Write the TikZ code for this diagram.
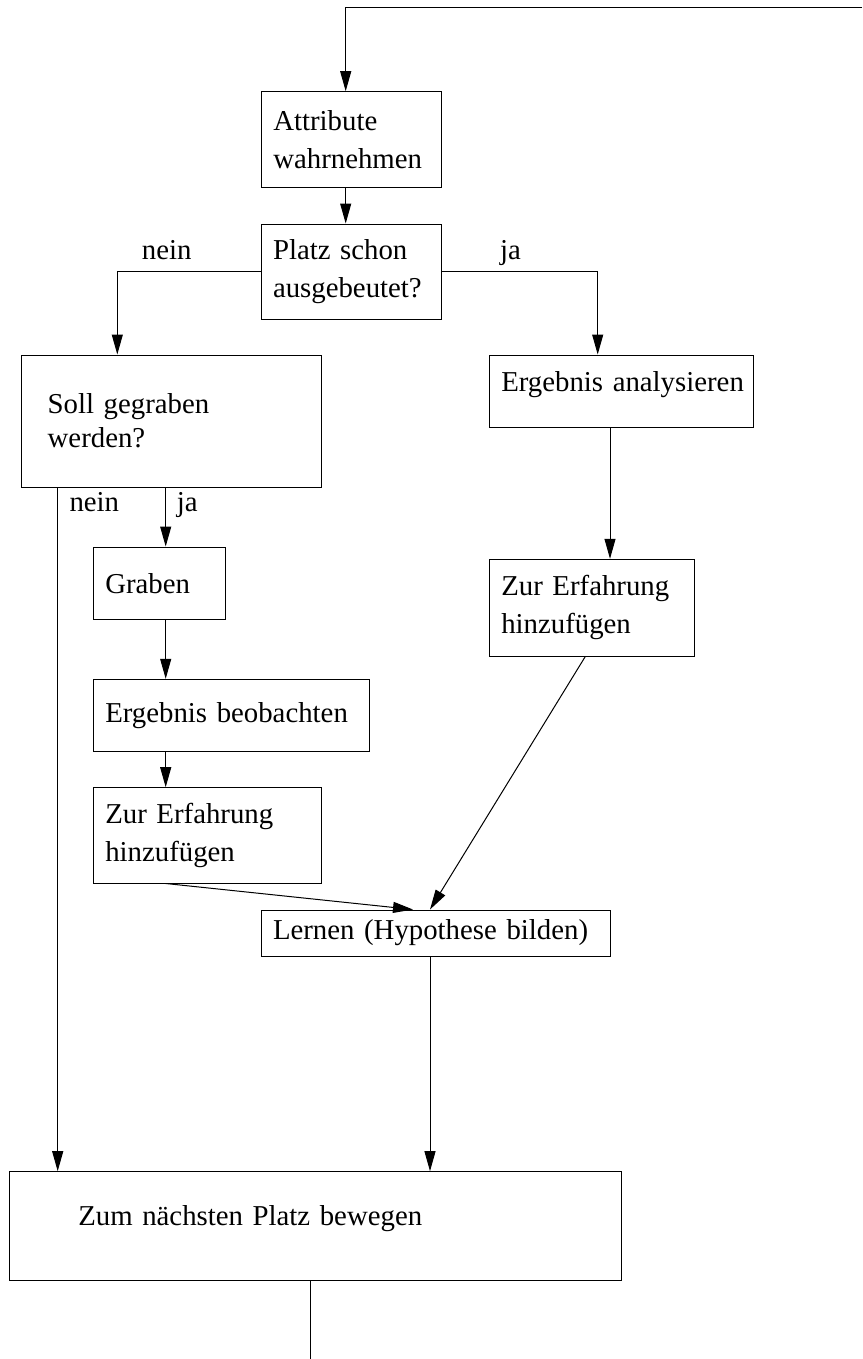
\documentclass[tikz,border=0pt]{standalone}
\usepackage{fontspec}
\setmainfont{Liberation Serif}
\usetikzlibrary{arrows.meta,calc}
\begin{document}
\begin{tikzpicture}[x=1pt,y=-1pt,
  every node/.style={font=\fontsize{28.8}{37.5}\selectfont},
  box/.style={draw, line width=1pt, rectangle, inner xsep=12pt, inner ysep=0pt, align=left, anchor=center},
  lbl/.style={inner sep=0pt, anchor=base west},
  arr/.style={line width=1pt, -{Triangle[length=20pt,width=11pt]}},
  ln/.style={line width=1pt}]
\useasboundingbox (0,0) rectangle (862,1359);

% boxes
\node[box, text width=156.4pt, minimum height=96pt] (a1) at (351.5,139.7) {Attribute\\wahrnehmen};
\node[box, text width=156.7pt, minimum height=95.3pt] (a2) at (351.35,271.65) {Platz~schon\\ausgebeutet?};
\node[box, inner xsep=26.4pt, text width=247.6pt, minimum height=132.3pt,
      font=\fontsize{28.8}{34}\selectfont] (a3) at (171.5,421.15) {Soll~gegraben\\werden?};
\node[box, text width=240.4pt, minimum height=72.7pt, text depth=19pt] (a4) at (621.5,391.35) {Ergebnis~analysieren};
\node[box, text width=180.7pt, minimum height=96.7pt] (a5) at (591.65,607.65) {Zur~Erfahrung\\hinzufügen};
\node[box, text width=108.4pt, minimum height=72.3pt] (b1) at (159.5,583.15) {Graben};
\node[box, text width=252pt, minimum height=72.4pt] (b2) at (231.3,715.5) {Ergebnis~beobachten};
\node[box, text width=204pt, minimum height=95.3pt] (b3) at (207.3,835.35) {Zur~Erfahrung\\hinzufügen};
\node[box, text width=325pt, minimum height=46pt] (c1) at (435.5,933) {Lernen~(Hypothese~bilden)};
\node[box, text width=588.4pt, minimum height=108.3pt, text depth=21.4pt] (c2) at (315.5,1225.85) {\hspace*{57pt}Zum~nächsten~Platz~bewegen};

% labels
\node[lbl] (n1) at (141.7,259) {nein};
\node[lbl] (j1) at (500,259) {ja};
\node[lbl] (n2) at (69.3,511.7) {nein};
\node[lbl] (j2) at (176.7,511.7) {ja};

% helper coordinates
\coordinate (topR) at (862,7.3);
\coordinate (topL) at (345.7,7.3);
\coordinate (xA) at (345.7,0);
\coordinate (xN) at (117.3,0);
\coordinate (xJ) at (597.7,0);
\coordinate (xE) at (610,0);
\coordinate (xG) at (165.7,0);
\coordinate (xM) at (57.7,0);
\coordinate (xL) at (413,0);
\coordinate (xP) at (430,0);
\coordinate (xB) at (310,0);
\coordinate (xZ) at (585.3,0);
\coordinate (bot) at (310,1359);

% connectors
\draw[arr] (topR) -- (topL) -- (a1.north -| xA);
\draw[arr] (a1.south -| xA) -- (a2.north -| xA);
\draw[arr] (a2.west) -| (a3.north -| xN);
\draw[arr] (a2.east) -| (a4.north -| xJ);
\draw[arr] (a4.south -| xE) -- (a5.north -| xE);
\draw[arr] (a3.south -| xG) -- (b1.north -| xG);
\draw[arr] (a3.south -| xM) -- (c2.north -| xM);
\draw[arr] (b1.south -| xG) -- (b2.north -| xG);
\draw[arr] (b2.south -| xG) -- (b3.north -| xG);
\draw[arr] (b3.south -| xG) -- (c1.north -| xL);
\draw[arr] (a5.south -| xZ) -- (c1.north -| xP);
\draw[arr] (c1.south -| xP) -- (c2.north -| xP);
\draw[ln] (c2.south -| xB) -- (bot);
\end{tikzpicture}
\end{document}
